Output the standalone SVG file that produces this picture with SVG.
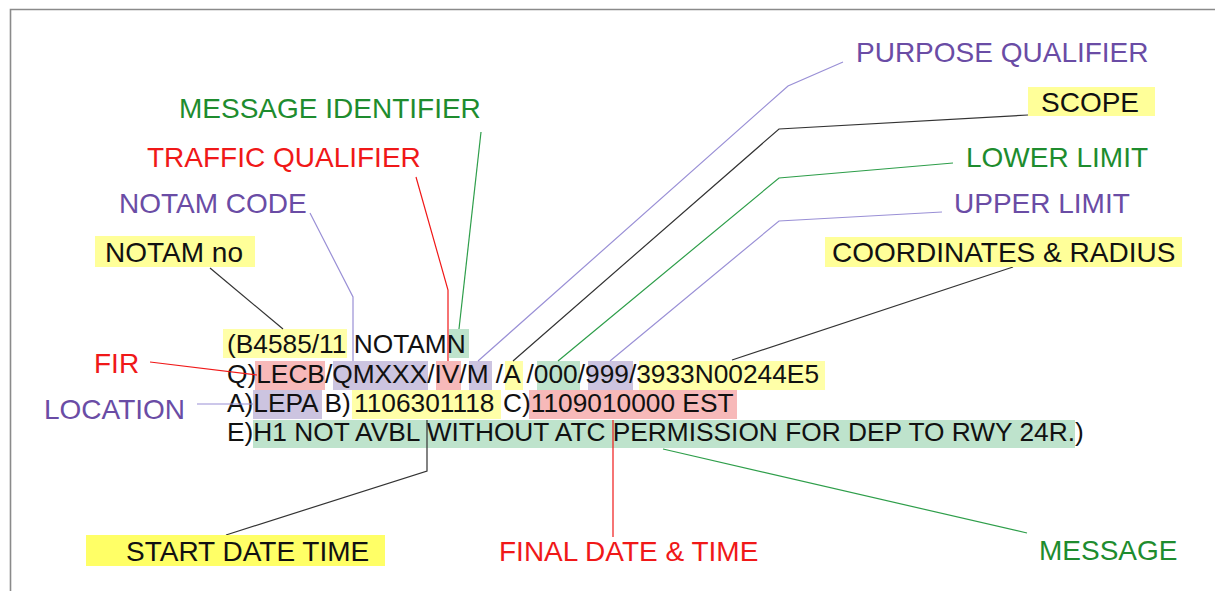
<svg xmlns="http://www.w3.org/2000/svg" width="1215" height="591" viewBox="0 0 1215 591">
<style>
text{font-family:"Liberation Sans",Arial,sans-serif}
.code{font-size:26.3px;fill:#111}
.lbl{font-size:28px}
.pur{fill:#6A4CA5}
.red{fill:#F01818}
.grn{fill:#1E8C2E}
.blk{fill:#111}
.hy{fill:#FFFFA8}
.hr{fill:#F7B9B9}
.hp{fill:#CCC4E0}
.hg{fill:#BEE3CC}
.ly{fill:#FFFF99}
.c{fill:none;stroke-width:1.2}
.cp{stroke:#9A90D6}
.cr{stroke:#F01818}
.cg{stroke:#2E9E4A}
.ck{stroke:#333}
</style>
<rect x="0" y="0" width="1215" height="591" fill="#fff"/>
<path d="M10.5,591 V9.5 H1215" fill="none" stroke="#8a8a8a" stroke-width="1.6"/>

<g id="notam-text">
  <rect class="hy" x="223" y="329" width="124" height="29"/>
  <rect class="hg" x="449" y="329" width="20" height="29"/>
  <rect class="hr" x="255" y="361" width="70" height="29"/>
  <rect class="hp" x="333" y="361" width="95" height="29"/>
  <rect class="hr" x="436" y="361" width="25" height="29"/>
  <rect class="hp" x="469" y="361" width="23" height="29"/>
  <rect class="hy" x="505" y="361" width="18" height="29"/>
  <rect class="hg" x="537" y="361" width="43" height="29"/>
  <rect class="hp" x="588" y="361" width="45" height="29"/>
  <rect class="hy" x="639" y="361" width="186" height="29"/>
  <rect class="hp" x="253" y="390" width="69" height="29"/>
  <rect class="hy" x="352" y="390" width="149" height="29"/>
  <rect class="hr" x="529" y="390" width="208" height="29"/>
  <rect class="hg" x="253" y="420" width="822" height="28"/>
  <text class="code" x="227" y="353">(B4585/11 NOTAMN</text>
  <text class="code" x="227" y="383">Q)LECB/QMXXX/IV/M /A /000/999/3933N00244E5</text>
  <text class="code" x="227" y="412">A)LEPA B)<tspan x="354">1106301118</tspan><tspan x="503">C)1109010000 EST</tspan></text>
  <text class="code" x="227" y="441">E)H1 NOT AVBL WITHOUT ATC PERMISSION FOR DEP TO RWY 24R.)</text>
</g>

<g id="connectors">
  <polyline class="c ck" points="210,268 283,329"/>
  <polyline class="c cp" points="310,213 353,297 353,361"/>
  <polyline class="c cr" points="416,177 448,290 448,361"/>
  <polyline class="c cg" points="481,132 459,329"/>
  <polyline class="c cp" points="843,62 788,86 478,361"/>
  <polyline class="c ck" points="1028,115 779,129 513,361"/>
  <polyline class="c cg" points="953,163 779,178 558,361"/>
  <polyline class="c cp" points="942,212 779,221 610,361"/>
  <polyline class="c ck" points="1013,267 732,360"/>
  <polyline class="c cr" points="150,362 257,375"/>
  <polyline class="c cp" points="197,404 253,404"/>
  <polyline class="c ck" points="226,535 427,471 427,420"/>
  <polyline class="c cr" points="613,420 613,537"/>
  <polyline class="c cg" points="663,449 1027,533"/>
</g>

<g id="purpose-qualifier"><text class="lbl pur" x="856" y="62">PURPOSE QUALIFIER</text></g>
<g id="scope"><rect class="ly" x="1028" y="87" width="127" height="29"/><text class="lbl blk" x="1041" y="112">SCOPE</text></g>
<g id="lower-limit"><text class="lbl grn" x="966" y="167">LOWER LIMIT</text></g>
<g id="upper-limit"><text class="lbl pur" x="954" y="213">UPPER LIMIT</text></g>
<g id="coordinates"><rect class="ly" x="825" y="237" width="357" height="30"/><text class="lbl blk" x="832" y="262">COORDINATES &amp; RADIUS</text></g>
<g id="message-identifier"><text class="lbl grn" x="179" y="118">MESSAGE IDENTIFIER</text></g>
<g id="traffic-qualifier"><text class="lbl red" x="147" y="167">TRAFFIC QUALIFIER</text></g>
<g id="notam-code"><text class="lbl pur" x="119" y="213">NOTAM CODE</text></g>
<g id="notam-no"><rect class="ly" x="95" y="236" width="160" height="31"/><text class="lbl blk" x="105" y="262">NOTAM no</text></g>
<g id="fir"><text class="lbl red" x="94" y="373">FIR</text></g>
<g id="location"><text class="lbl pur" x="44" y="419">LOCATION</text></g>
<g id="start-date-time"><rect x="86" y="535" width="299" height="31" fill="#FFFF66"/><text class="lbl blk" x="126" y="561">START DATE TIME</text></g>
<g id="final-date-time"><text class="lbl red" x="499" y="561">FINAL DATE &amp; TIME</text></g>
<g id="message"><text class="lbl grn" x="1039" y="560">MESSAGE</text></g>
</svg>
